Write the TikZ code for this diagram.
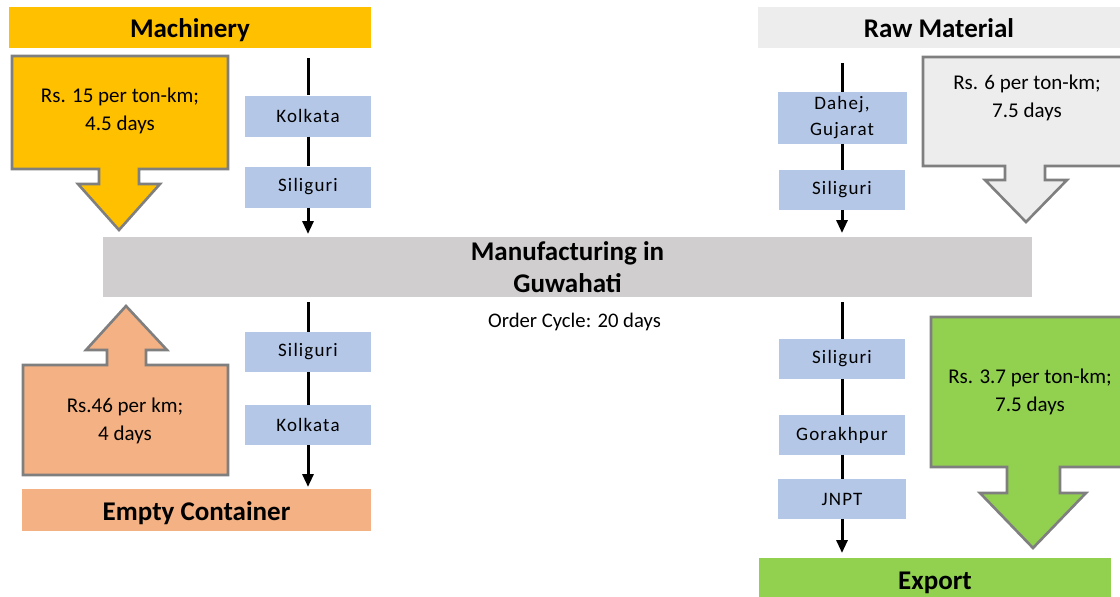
\documentclass[tikz,border=0pt]{standalone}
\usepackage{fontspec}
\setmainfont{Carlito}
\newfontfamily\spacedfont[LetterSpace=6]{Carlito}
\usetikzlibrary{arrows.meta}
\definecolor{gold}{HTML}{FFC000}
\definecolor{rawgray}{HTML}{EDEDED}
\definecolor{centralgray}{HTML}{D0CECE}
\definecolor{orangefill}{HTML}{F4B183}
\definecolor{greenfill}{HTML}{92D050}
\definecolor{stopblue}{HTML}{B4C7E7}
\definecolor{outline}{HTML}{7F7F7F}
\begin{document}
\begin{tikzpicture}[x=1pt,y=-1pt,
  bar/.style={inner sep=0pt, font=\bfseries\fontsize{27}{32}\selectfont, align=center},
  stopbox/.style={fill=stopblue, minimum width=126pt, minimum height=41pt, inner sep=0pt, font=\spacedfont\fontsize{19}{26}\selectfont, align=center},
  callout/.style={draw=outline, line width=2.6pt, line join=miter},
  ctext/.style={font=\fontsize{21}{28}\selectfont, align=center},
  flow/.style={line width=3pt, -{Triangle[width=11pt,length=13pt]}},
]
\useasboundingbox (0,0) rectangle (1120,597);
\clip (0,0) rectangle (1120,597);

% title bars
\node[bar, fill=gold, minimum width=362pt, minimum height=41pt, text height=19pt, text depth=0pt] (mach) at (190,27.5) {Machinery};
\node[bar, fill=rawgray, minimum width=362pt, minimum height=41pt, text height=19pt, text depth=0pt] (raw) at (939,27.5) {Raw Material};
\node[bar, fill=centralgray, minimum width=929pt, minimum height=60pt] (mfg) at (567.5,267) {Manufacturing in\\Guwahati};
\node[bar, fill=orangefill, minimum width=349pt, minimum height=42pt, text height=20pt, text depth=0pt] (empty) at (196.5,510) {Empty Container};
\node[bar, fill=greenfill, minimum width=352pt, minimum height=50pt, text height=19pt, text depth=7pt] (export) at (935,583) {Export};
\node[font=\fontsize{20.7}{24}\selectfont, inner sep=0pt] (cycle) at (574.5,322) {Order Cycle: 20 days};

% callouts
\draw[callout, fill=gold] (12,56) -- (228,56) -- (228,169) -- (139,169) -- (139,184) -- (160,184) -- (119,230) -- (78,184) -- (99,184) -- (99,169) -- (12,169) -- cycle;
\node[ctext] (machtxt) at (120,111) {Rs. 15 per ton-km;\\4.5 days};

\draw[callout, fill=rawgray] (923,57) -- (1129,57) -- (1129,166) -- (1045,166) -- (1045,180) -- (1067,180) -- (1026,222) -- (985,180) -- (1005,180) -- (1005,166) -- (923,166) -- cycle;
\node[ctext] (rawtxt) at (1027,98) {Rs. 6 per ton-km;\\7.5 days};

\draw[callout, fill=orangefill] (23,475) -- (228,475) -- (228,365) -- (146,365) -- (146,350) -- (167,350) -- (126,306) -- (86,350) -- (107,350) -- (107,365) -- (23,365) -- cycle;
\node[ctext] (emptytxt) at (125,421) {Rs.46 per km;\\4 days};

\draw[callout, fill=greenfill] (931,317) -- (1135,317) -- (1135,467) -- (1060,467) -- (1060,493) -- (1086,493) -- (1033,548) -- (980,493) -- (1007,493) -- (1007,467) -- (931,467) -- cycle;
\node[ctext] (exporttxt) at (1030,392) {Rs. 3.7 per ton-km;\\7.5 days};

% stops
\node[stopbox] (kolA) at (308,116) {Kolkata};
\node[stopbox] (silA) at (308,187) {Siliguri};
\node[stopbox, minimum width=129pt, minimum height=52pt] (dahej) at (842,118) {Dahej,\\Gujarat};
\node[stopbox, minimum height=40pt] (silB) at (842,190) {Siliguri};
\node[stopbox, minimum height=40pt] (silC) at (308,352) {Siliguri};
\node[stopbox, minimum height=40pt] (kolC) at (308,425) {Kolkata};
\node[stopbox, minimum height=40pt] (silD) at (842,359) {Siliguri};
\node[stopbox, minimum height=40pt] (gora) at (842,435) {Gorakhpur};
\node[stopbox, minimum width=128pt, minimum height=40pt] (jnpt) at (842,499) {JNPT};

% flow coordinates
\coordinate (sA) at (308,58);
\coordinate (eA) at (308,234);
\coordinate (sB) at (842,63);
\coordinate (eB) at (842,233);
\coordinate (sC) at (308,302);
\coordinate (eC) at (308,487);
\coordinate (sD) at (842,302);
\coordinate (eD) at (842,553);

\draw[flow] (sA) -- (kolA) -- (silA) -- (eA);
\draw[flow] (sB) -- (dahej) -- (silB) -- (eB);
\draw[flow] (sC) -- (silC) -- (kolC) -- (eC);
\draw[flow] (sD) -- (silD) -- (gora) -- (jnpt) -- (eD);
\end{tikzpicture}
\end{document}
